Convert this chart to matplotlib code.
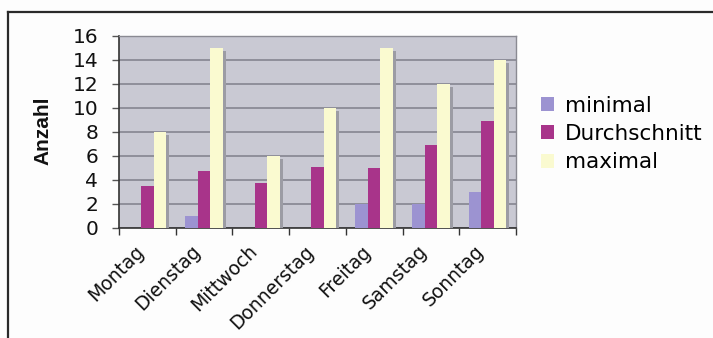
import numpy as np
import matplotlib
matplotlib.use("Agg")
import matplotlib.pyplot as plt
import matplotlib.patheffects as pe
import matplotlib.transforms as mtransforms
from matplotlib.lines import Line2D
from matplotlib.patches import Patch

# Weekly counts per weekday
days = ["Montag", "Dienstag", "Mittwoch", "Donnerstag", "Freitag", "Samstag", "Sonntag"]
minimal = [0, 1, 0, 0, 2, 2, 3]
durchschnitt = [3.45, 4.72, 3.7, 5.08, 4.95, 6.87, 8.87]
maximal = [8, 15, 6, 10, 15, 12, 14]
series_names = ["minimal", "Durchschnitt", "maximal"]
series_colors = ["#9c93d1", "#a8348a", "#fafad0"]
y_ticks = [0, 2, 4, 6, 8, 10, 12, 14, 16]

W, H = 713, 338
fig = plt.figure(figsize=(W / 100, H / 100), dpi=100, facecolor="#fdfdfd")

# outer frame (top and left edges)
fig.add_artist(Line2D([8 / W, 8 / W], [0, 1 - 12 / H], color="#2a2a2a", lw=1.6,
                      transform=fig.transFigure))
fig.add_artist(Line2D([8 / W, 1], [1 - 12 / H, 1 - 12 / H], color="#2a2a2a", lw=1.6,
                      transform=fig.transFigure))

left, right, top, bottom = 119, 516, 35.7, 227.7
ax = fig.add_axes([left / W, 1 - bottom / H, (right - left) / W, (bottom - top) / H])
ax.set_facecolor("#c9c9d3")

x = np.arange(len(days))
bw = 0.22
shadow = [pe.SimplePatchShadow(offset=(2.2, -2.2), shadow_rgbFace="#9c9ca4", alpha=1.0),
          pe.Normal()]
for i, (vals, col) in enumerate(zip([minimal, durchschnitt, maximal], series_colors)):
    bars = ax.bar(x + (i - 1) * bw, vals, width=bw, color=col, edgecolor="none", zorder=3)
    for b in bars:
        b.set_path_effects(shadow)

ax.set_xlim(-0.5, len(days) - 0.5)
ax.set_ylim(0, 16)
ax.set_yticks(y_ticks)
ax.set_yticklabels([str(t) for t in y_ticks])
ax.yaxis.grid(True, color="#858590", lw=1.2, zorder=0)
ax.set_axisbelow(True)

# category boundary ticks with labels centred in each slot
ax.set_xticks(np.arange(len(days) + 1) - 0.5)
ax.set_xticklabels([])
ax.set_xticks(x, minor=True)
ax.set_xticklabels(days, minor=True, rotation=45, ha="right", va="top",
                   fontsize=13.5, color="#111111")
shift = mtransforms.ScaledTranslation(-7 / 100, 0, fig.dpi_scale_trans)
for lbl in ax.get_xticklabels(minor=True):
    lbl.set_transform(lbl.get_transform() + shift)
ax.tick_params(axis="x", which="minor", length=0, pad=10)
ax.tick_params(axis="x", which="major", length=5, width=1, color="#333333", direction="out")
ax.tick_params(axis="y", length=5, width=1, color="#555555", direction="out",
               labelsize=14.5, labelcolor="#111111", pad=10)

for s in ["top", "right"]:
    ax.spines[s].set_color("#8a8a92")
    ax.spines[s].set_linewidth(1.0)
ax.spines["left"].set_color("#333333")
ax.spines["bottom"].set_color("#333333")
ax.spines["left"].set_linewidth(1.2)
ax.spines["bottom"].set_linewidth(1.2)

fig.text(43 / W, 1 - 131 / H, "Anzahl", rotation=90, ha="center", va="center",
         fontsize=15, fontweight="bold", family=["Liberation Sans Narrow", "Liberation Sans"],
         color="#111111")

handles = [Patch(facecolor=c, edgecolor="none") for c in series_colors]
fig.legend(handles, series_names, loc="center left",
           bbox_to_anchor=(541 / W, 1 - 134 / H), frameon=False,
           fontsize=15.5, handlelength=0.62, handleheight=0.62, handletextpad=0.5,
           labelspacing=0.38, borderaxespad=0, borderpad=0)

fig.savefig("out.png", dpi=100, facecolor=fig.get_facecolor())
